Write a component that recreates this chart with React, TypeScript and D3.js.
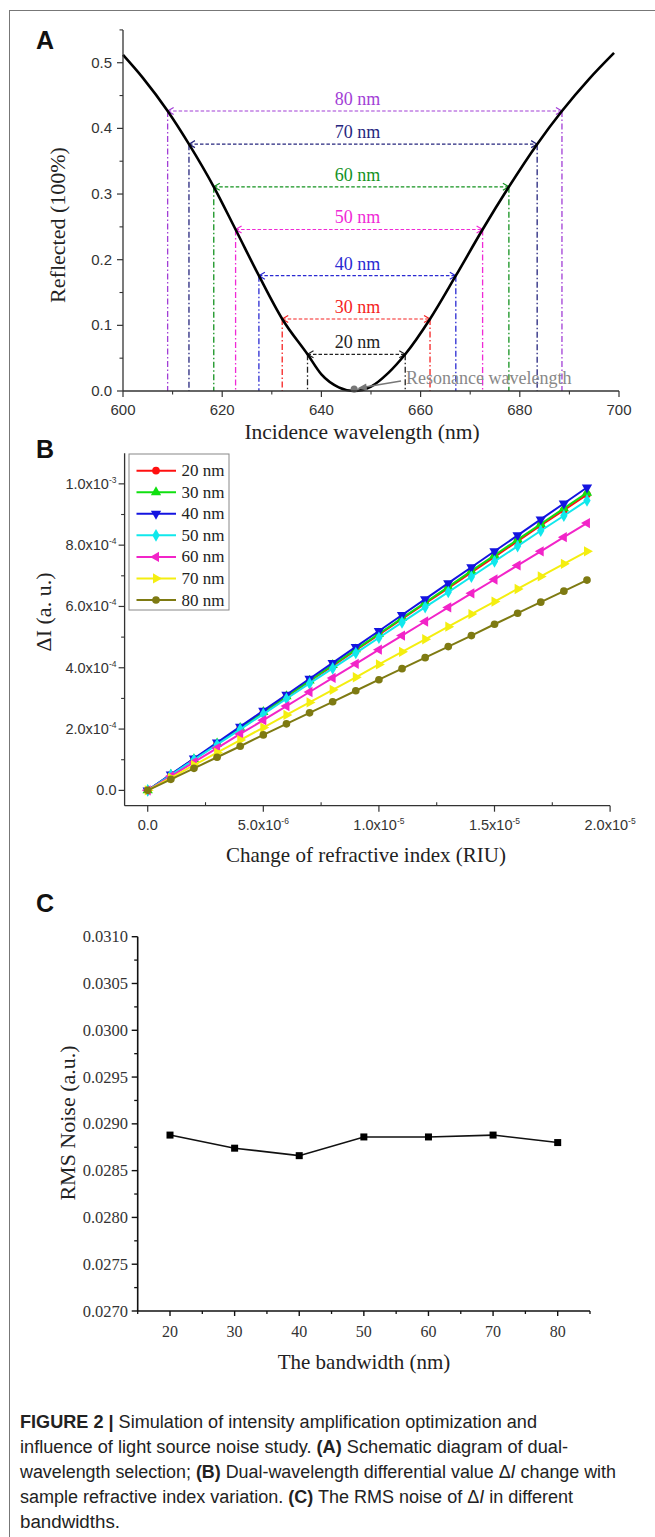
import React from 'react';
import * as d3 from 'd3';

// ---------- Panel A data ----------
const wavelengthA = [600, 604, 609, 613.3, 618.3, 622.7, 627.4, 632.1, 637.2, 640, 643.5, 646.6, 650, 653.5, 656.9, 661.9, 667.1, 672.5, 677.8, 683.5, 688.5, 694, 699];
const reflectA = [0.512, 0.477, 0.4265, 0.376, 0.311, 0.246, 0.1756, 0.1097, 0.0559, 0.0253, 0.0056, 0.0, 0.0067, 0.0276, 0.0559, 0.1097, 0.1756, 0.246, 0.311, 0.376, 0.4265, 0.4755, 0.515];
const bandLabels = ['80 nm', '70 nm', '60 nm', '50 nm', '40 nm', '30 nm', '20 nm'];
const bandLevel = [0.4265, 0.376, 0.311, 0.246, 0.1756, 0.1097, 0.0559];
const bandLeft = [609.0, 613.3, 618.3, 622.7, 627.4, 632.1, 637.2];
const bandRight = [688.5, 683.5, 677.8, 672.5, 667.1, 661.9, 656.9];
const bandColors = ['#a23ed6', '#26267e', '#13921f', '#f02ad6', '#2a2ad2', '#f52222', '#222222'];
const resonanceWl = 646.6;
const xTicksA = [600, 620, 640, 660, 680, 700];
const yTicksA = [0, 0.1, 0.2, 0.3, 0.4, 0.5];

// ---------- Panel B data ----------
const riuB = [0, 1e-6, 2e-6, 3e-6, 4e-6, 5e-6, 6e-6, 7e-6, 8e-6, 9e-6, 1e-5, 1.1e-5, 1.2e-5, 1.3e-5, 1.4e-5, 1.5e-5, 1.6e-5, 1.7e-5, 1.8e-5, 1.9e-5];
const seriesNames = ['20 nm', '30 nm', '40 nm', '50 nm', '60 nm', '70 nm', '80 nm'];
const dI20 = [0, 0.51, 1.02, 1.52, 2.03, 2.54, 3.05, 3.56, 4.06, 4.57, 5.08, 5.59, 6.10, 6.60, 7.11, 7.62, 8.13, 8.64, 9.14, 9.65];
const dI30 = [0, 0.51, 1.02, 1.53, 2.04, 2.56, 3.07, 3.58, 4.09, 4.60, 5.11, 5.62, 6.13, 6.64, 7.16, 7.67, 8.18, 8.69, 9.20, 9.71];
const dI40 = [0, 0.52, 1.04, 1.56, 2.08, 2.60, 3.12, 3.64, 4.16, 4.68, 5.20, 5.72, 6.24, 6.76, 7.28, 7.80, 8.32, 8.84, 9.36, 9.88];
const dI50 = [0, 0.50, 1.00, 1.49, 1.99, 2.49, 2.99, 3.49, 3.98, 4.48, 4.98, 5.48, 5.98, 6.47, 6.97, 7.47, 7.97, 8.47, 8.96, 9.46];
const dI60 = [0, 0.46, 0.92, 1.38, 1.84, 2.29, 2.75, 3.21, 3.67, 4.13, 4.59, 5.05, 5.51, 5.97, 6.43, 6.88, 7.34, 7.80, 8.26, 8.72];
const dI70 = [0, 0.41, 0.82, 1.23, 1.64, 2.05, 2.46, 2.87, 3.28, 3.69, 4.11, 4.52, 4.93, 5.34, 5.75, 6.16, 6.57, 6.98, 7.39, 7.80];
const dI80 = [0, 0.36, 0.72, 1.08, 1.44, 1.81, 2.17, 2.53, 2.89, 3.25, 3.61, 3.97, 4.33, 4.69, 5.05, 5.42, 5.78, 6.14, 6.50, 6.86];
const dIUnit = 1e-4;
const seriesColors = ['#ff1010', '#10e010', '#1414e0', '#10e8ec', '#f224c8', '#f4ee10', '#7e7a12'];
const seriesShapes = ['circle', 'up', 'down', 'diamond', 'left', 'right', 'circle'];
const xTicksB = [0, 5e-6, 1e-5, 1.5e-5, 2e-5];
const xTickLabelsB = [['0.0', ''], ['5.0x10', '-6'], ['1.0x10', '-5'], ['1.5x10', '-5'], ['2.0x10', '-5']];
const yTicksB = [0, 2e-4, 4e-4, 6e-4, 8e-4, 1e-3];
const yTickLabelsB = [['0.0', ''], ['2.0x10', '-4'], ['4.0x10', '-4'], ['6.0x10', '-4'], ['8.0x10', '-4'], ['1.0x10', '-3']];

// ---------- Panel C data ----------
const bandwidthC = [20, 30, 40, 50, 60, 70, 80];
const rmsNoiseC = [0.02888, 0.02874, 0.02866, 0.02886, 0.02886, 0.02888, 0.0288];
const xTicksC = [20, 30, 40, 50, 60, 70, 80];
const yTicksC = [0.027, 0.0275, 0.028, 0.0285, 0.029, 0.0295, 0.03, 0.0305, 0.031];

// ---------- Caption ----------
const captionLines: { t: string; b?: boolean; i?: boolean }[][] = [
  [{ t: 'FIGURE 2 |', b: true }, { t: ' Simulation of intensity amplification optimization and' }],
  [{ t: 'influence of light source noise study. ' }, { t: '(A)', b: true }, { t: ' Schematic diagram of dual-' }],
  [{ t: 'wavelength selection; ' }, { t: '(B)', b: true }, { t: ' Dual-wavelength differential value Δ' }, { t: 'I', i: true }, { t: ' change with' }],
  [{ t: 'sample refractive index variation. ' }, { t: '(C)', b: true }, { t: ' The RMS noise of Δ' }, { t: 'I', i: true }, { t: ' in different' }],
  [{ t: 'bandwidths.' }],
];
const captionWidths = [517, 548, 596, 553, 100];

const SANS = "'Liberation Sans', Arial, sans-serif";
const SERIF = "'Liberation Serif', 'Times New Roman', serif";
const NARROW = "'Liberation Sans Narrow', 'Arial Narrow', 'Liberation Sans', sans-serif";
const AX = '#333';

function symbolPath(shape: string, size: number) {
  if (shape === 'circle') return { d: d3.symbol().type(d3.symbolCircle).size(size)() as string, rot: 0 };
  if (shape === 'diamond') return { d: d3.symbol().type(d3.symbolDiamond).size(size)() as string, rot: 0 };
  const tri = d3.symbol().type(d3.symbolTriangle).size(size)() as string;
  const rot = shape === 'up' ? 0 : shape === 'down' ? 180 : shape === 'left' ? -90 : 90;
  return { d: tri, rot };
}

function PanelA() {
  const xA = d3.scaleLinear().domain([600, 700]).range([123, 619]);
  const yA = d3.scaleLinear().domain([0, 0.55]).range([391, 29.9]);
  const pts: [number, number][] = wavelengthA.map((w, i) => [w, reflectA[i]]);
  const line = d3.line<[number, number]>().x(d => xA(d[0])).y(d => yA(d[1])).curve(d3.curveMonotoneX);
  const y0 = yA(0);
  const xMinor = d3.range(610, 700, 20);
  const yMinor = d3.range(0.05, 0.56, 0.1);
  const rx = xA(resonanceWl);
  return (
    <g>
      <text x={36} y={49} fontFamily={SANS} fontWeight="bold" fontSize={25} fill="#111">A</text>
      {bandLabels.map((b, i) => (
        <g key={'v' + i} stroke={bandColors[i]} strokeWidth={1.3} strokeDasharray="6,2.5,1.5,2.5">
          <line x1={xA(bandLeft[i])} x2={xA(bandLeft[i])} y1={yA(bandLevel[i])} y2={y0} />
          <line x1={xA(bandRight[i])} x2={xA(bandRight[i])} y1={yA(bandLevel[i])} y2={y0} />
        </g>
      ))}
      {bandLabels.map((b, i) => {
        const yy = yA(bandLevel[i]);
        const xl = xA(bandLeft[i]);
        const xr = xA(bandRight[i]);
        return (
          <g key={'h' + i}>
            <line x1={xl} x2={xr} y1={yy} y2={yy} stroke={bandColors[i]} strokeWidth={1.2} strokeDasharray="3.5,2" />
            <path d={`M${xl + 6},${yy - 3.5} L${xl},${yy} L${xl + 6},${yy + 3.5}`} fill="none" stroke={bandColors[i]} strokeWidth={1.2} />
            <path d={`M${xr - 6},${yy - 3.5} L${xr},${yy} L${xr - 6},${yy + 3.5}`} fill="none" stroke={bandColors[i]} strokeWidth={1.2} />
            <text x={xA(647.3)} y={yy - 6} textAnchor="middle" fontFamily={SERIF} fontSize={18} fill={bandColors[i]}>{b}</text>
          </g>
        );
      })}
      <path d={line(pts) as string} fill="none" stroke="#000" strokeWidth={2.6} />
      <circle cx={rx} cy={y0 - 2} r={3.5} fill="#777" />
      <line x1={401} y1={381} x2={rx + 8} y2={y0 - 3.5} stroke="#777" strokeWidth={1.6} />
      <path d={`M${rx + 3},${y0 - 2.5} L${rx + 12},${y0 - 7.5} L${rx + 13},${y0 - 0.5} Z`} fill="#777" />
      <text x={406} y={384} fontFamily={SERIF} fontSize={18} fill="#888">Resonance wavelength</text>
      <line x1={123} x2={123} y1={y0} y2={yA(0.55)} stroke={AX} strokeWidth={1.3} />
      <line x1={123} x2={619} y1={y0} y2={y0} stroke={AX} strokeWidth={1.3} />
      {xTicksA.map(t => (
        <g key={'xa' + t}>
          <line x1={xA(t)} x2={xA(t)} y1={y0} y2={y0 + 6} stroke={AX} strokeWidth={1.2} />
          <text x={xA(t)} y={y0 + 24} textAnchor="middle" fontFamily={SANS} fontSize={15} fill={AX}>{t}</text>
        </g>
      ))}
      {xMinor.map(t => <line key={'xam' + t} x1={xA(t)} x2={xA(t)} y1={y0} y2={y0 + 3.5} stroke={AX} strokeWidth={1.1} />)}
      {yTicksA.map(t => (
        <g key={'ya' + t}>
          <line x1={117} x2={123} y1={yA(t)} y2={yA(t)} stroke={AX} strokeWidth={1.2} />
          <text x={112} y={yA(t) + 5} textAnchor="end" fontFamily={SANS} fontSize={15} fill={AX}>{t.toFixed(1)}</text>
        </g>
      ))}
      {yMinor.map(t => <line key={'yam' + t} x1={119.5} x2={123} y1={yA(t)} y2={yA(t)} stroke={AX} strokeWidth={1.1} />)}
      <text transform={`translate(65,225) rotate(-90)`} textAnchor="middle" fontFamily={SERIF} fontSize={22} fill="#222">Reflected (100%)</text>
      <text x={362} y={439} textAnchor="middle" fontFamily={SERIF} fontSize={21.5} fill="#222">Incidence wavelength (nm)</text>
    </g>
  );
}

function PanelB() {
  const xB = d3.scaleLinear().domain([-1e-6, 2e-5]).range([124.6, 610.1]);
  const yB = d3.scaleLinear().domain([-5e-5, 1.1e-3]).range([805.7, 453.2]);
  const series = [dI20, dI30, dI40, dI50, dI60, dI70, dI80];
  const line = d3.line<number>().x((d, i) => xB(riuB[i])).y(d => yB(d * dIUnit));
  const yAx = xB(-1e-6);
  const xAx = yB(-5e-5);
  const xMinor = [2.5e-6, 7.5e-6, 1.25e-5, 1.75e-5];
  const yMinor = [1e-4, 3e-4, 5e-4, 7e-4, 9e-4];
  return (
    <g>
      <text x={36} y={458} fontFamily={SANS} fontWeight="bold" fontSize={25} fill="#111">B</text>
      {series.map((s, k) => (
        <g key={'s' + k}>
          <path d={line(s) as string} fill="none" stroke={seriesColors[k]} strokeWidth={2} />
          {s.map((v, i) => {
            const sp = symbolPath(seriesShapes[k], 46);
            return <path key={i} d={sp.d} transform={`translate(${xB(riuB[i])},${yB(v * dIUnit)}) rotate(${sp.rot})`} fill={seriesColors[k]} />;
          })}
        </g>
      ))}
      <line x1={yAx} x2={yAx} y1={xAx} y2={yB(1.1e-3)} stroke={AX} strokeWidth={1.3} />
      <line x1={yAx} x2={xB(2e-5)} y1={xAx} y2={xAx} stroke={AX} strokeWidth={1.3} />
      {xTicksB.map((t, i) => (
        <g key={'xb' + i}>
          <line x1={xB(t)} x2={xB(t)} y1={xAx} y2={xAx + 6} stroke={AX} strokeWidth={1.2} />
          <text x={xB(t)} y={xAx + 24} textAnchor="middle" fontFamily={SANS} fontSize={14.5} fill={AX}>
            {xTickLabelsB[i][0]}
            {xTickLabelsB[i][1] && <tspan dy={-6} fontSize={8.5}>{xTickLabelsB[i][1]}</tspan>}
          </text>
        </g>
      ))}
      {xMinor.map(t => <line key={'xbm' + t} x1={xB(t)} x2={xB(t)} y1={xAx} y2={xAx - 3.5} stroke={AX} strokeWidth={1.1} />)}
      {yTicksB.map((t, i) => (
        <g key={'yb' + i}>
          <line x1={yAx - 6} x2={yAx} y1={yB(t)} y2={yB(t)} stroke={AX} strokeWidth={1.2} />
          <text x={116.5} y={yB(t) + 5} textAnchor="end" fontFamily={SANS} fontSize={14.5} fill={AX}>
            {yTickLabelsB[i][0]}
            {yTickLabelsB[i][1] && <tspan dy={-6} fontSize={8.5}>{yTickLabelsB[i][1]}</tspan>}
          </text>
        </g>
      ))}
      {yMinor.map(t => <line key={'ybm' + t} x1={yAx - 3.5} x2={yAx} y1={yB(t)} y2={yB(t)} stroke={AX} strokeWidth={1.1} />)}
      <rect x={129} y={454} width={100} height={156} fill="#fff" stroke="#888" strokeWidth={1} />
      {seriesNames.map((n, k) => {
        const cy = 470.7 + k * 21.55;
        const sp = symbolPath(seriesShapes[k], 46);
        return (
          <g key={'lg' + k}>
            <line x1={136.5} x2={176} y1={cy} y2={cy} stroke={seriesColors[k]} strokeWidth={2} />
            <path d={sp.d} transform={`translate(156,${cy}) rotate(${sp.rot})`} fill={seriesColors[k]} />
            <text x={181.5} y={cy + 5.5} fontFamily={SERIF} fontSize={17} fill="#222">{n}</text>
          </g>
        );
      })}
      <text transform={`translate(51,612) rotate(-90)`} textAnchor="middle" fontFamily={SERIF} fontSize={22} fill="#222">ΔI (a. u.)</text>
      <text x={366} y={862} textAnchor="middle" fontFamily={SERIF} fontSize={21} fill="#222">Change of refractive index (RIU)</text>
    </g>
  );
}

function PanelC() {
  const xC = d3.scaleLinear().domain([15, 85]).range([137.7, 590]);
  const yC = d3.scaleLinear().domain([0.027, 0.031]).range([1311, 936.7]);
  const pts: [number, number][] = bandwidthC.map((b, i) => [b, rmsNoiseC[i]]);
  const line = d3.line<[number, number]>().x(d => xC(d[0])).y(d => yC(d[1]));
  const yAx = xC(15);
  const xAx = yC(0.027);
  const xMinor = [15, 25, 35, 45, 55, 65, 75, 85];
  const yMinor = d3.range(0.02725, 0.031, 0.0005);
  return (
    <g>
      <text x={36} y={912} fontFamily={SANS} fontWeight="bold" fontSize={25} fill="#111">C</text>
      <path d={line(pts) as string} fill="none" stroke="#111" strokeWidth={1.6} />
      {pts.map((p, i) => (
        <rect key={i} x={xC(p[0]) - 3.5} y={yC(p[1]) - 3.5} width={7} height={7} fill="#000" />
      ))}
      <line x1={yAx} x2={yAx} y1={xAx} y2={yC(0.031)} stroke="#111" strokeWidth={1.6} />
      <line x1={yAx} x2={xC(85)} y1={xAx} y2={xAx} stroke="#111" strokeWidth={1.6} />
      {xTicksC.map(t => (
        <g key={'xc' + t}>
          <line x1={xC(t)} x2={xC(t)} y1={xAx} y2={xAx + 5} stroke="#111" strokeWidth={1.4} />
          <text x={xC(t)} y={xAx + 26} textAnchor="middle" fontFamily={SERIF} fontSize={16} fill="#333">{t}</text>
        </g>
      ))}
      {xMinor.map(t => <line key={'xcm' + t} x1={xC(t)} x2={xC(t)} y1={xAx} y2={xAx + 3} stroke="#111" strokeWidth={1.3} />)}
      {yTicksC.map(t => (
        <g key={'yc' + t}>
          <line x1={yAx - 6} x2={yAx} y1={yC(t)} y2={yC(t)} stroke="#111" strokeWidth={1.4} />
          <text x={128} y={yC(t) + 5.5} textAnchor="end" fontFamily={SERIF} fontSize={16.5} fill="#333">{t.toFixed(4)}</text>
        </g>
      ))}
      {yMinor.map(t => <line key={'ycm' + t} x1={yAx - 3.5} x2={yAx} y1={yC(t)} y2={yC(t)} stroke="#111" strokeWidth={1.3} />)}
      <text transform={`translate(75,1123) rotate(-90)`} textAnchor="middle" fontFamily={SERIF} fontSize={22} fill="#222">RMS Noise (a.u.)</text>
      <text x={364} y={1369} textAnchor="middle" fontFamily={SERIF} fontSize={21} fill="#222">The bandwidth (nm)</text>
    </g>
  );
}

function Caption() {
  return (
    <g>
      {captionLines.map((segs, li) => (
        <text key={li} x={20} y={1428 + li * 25} fontFamily={NARROW} fontSize={18} fill="#222"
          textLength={captionWidths[li]} lengthAdjust="spacingAndGlyphs">
          {segs.map((s, si) => (
            <tspan key={si} fontWeight={s.b ? 'bold' : 'normal'} fontStyle={s.i ? 'italic' : 'normal'}>{s.t}</tspan>
          ))}
        </text>
      ))}
    </g>
  );
}

export default function App() {
  return (
    <svg width={655} height={1537} style={{ position: 'absolute', left: 0, top: 0, background: '#fff' }}
      xmlns="http://www.w3.org/2000/svg">
      <rect x={0} y={0} width={655} height={1537} fill="#fff" />
      <line x1={9} x2={655} y1={10.5} y2={10.5} stroke="#777" strokeWidth={1} />
      <line x1={9.5} x2={9.5} y1={10} y2={1537} stroke="#777" strokeWidth={1} />
      <PanelA />
      <PanelB />
      <PanelC />
      <Caption />
    </svg>
  );
}
